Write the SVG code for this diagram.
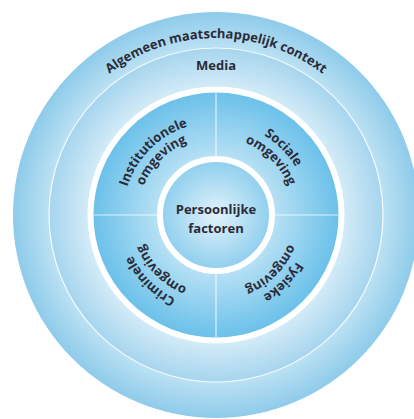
<svg xmlns="http://www.w3.org/2000/svg" xmlns:xlink="http://www.w3.org/1999/xlink" width="414" height="419" viewBox="0 0 414 419">
<defs>
<style>
.lbl{font-family:"Open Sans","Noto Sans","Liberation Sans",sans-serif;font-weight:700;font-size:13px;fill:#2b2b38;}
.div{stroke:#ffffff;stroke-opacity:0.75;stroke-width:1.2;fill:none;}
.ring{fill:none;stroke:#ffffff;stroke-width:6;}
</style>
<radialGradient id="gOuter" gradientUnits="userSpaceOnUse" cx="216" cy="215" r="203">
<stop offset="0.82" stop-color="#bce1f3"/>
<stop offset="1" stop-color="#8ecbea"/>
</radialGradient>
<radialGradient id="gMedia" gradientUnits="userSpaceOnUse" cx="216" cy="215" r="203">
<stop offset="0.63" stop-color="#d3ebf7"/>
<stop offset="0.823" stop-color="#a6d5ee"/>
</radialGradient>
<radialGradient id="gSector" gradientUnits="userSpaceOnUse" cx="216" cy="215" r="203">
<stop offset="0.29" stop-color="#b6e0f4"/>
<stop offset="0.6" stop-color="#6cc1ea"/>
</radialGradient>
<radialGradient id="gInner" gradientUnits="userSpaceOnUse" cx="216" cy="215" r="203">
<stop offset="0" stop-color="#e3f3fb"/>
<stop offset="0.27" stop-color="#8fcfee"/>
</radialGradient>
<path id="arcCtx" d="M41.69,184.26 A177,177 0 0 1 390.31,184.26"/>
<path id="arcOut" d="M124.41,198.85 A93,93 0 0 1 307.59,198.85"/>
<path id="arcIn" d="M139.18,201.46 A78,78 0 0 1 292.82,201.46"/>
</defs>
<rect width="414" height="419" fill="#ffffff"/>

<g id="context">
<circle cx="216" cy="215" r="203" fill="url(#gOuter)"/>
<text class="lbl"><textPath xlink:href="#arcCtx" href="#arcCtx" startOffset="50%" text-anchor="middle">Algemeen maatschappelijk context</textPath></text>
</g>

<g id="media">
<circle cx="216" cy="215" r="167" fill="url(#gMedia)" stroke="#ffffff" stroke-opacity="0.85" stroke-width="1.2"/>
<text class="lbl" x="216" y="70" text-anchor="middle">Media</text>
</g>

<g id="omgevingen">
<circle cx="216" cy="215" r="125.5" fill="url(#gSector)"/>
<circle class="ring" cx="216" cy="215" r="125.5"/>
</g>

<g id="connectors">
<line class="div" x1="216" y1="93" x2="216" y2="156"/>
<line class="div" x1="216" y1="274" x2="216" y2="337"/>
<line class="div" x1="94" y1="215" x2="157" y2="215"/>
<line class="div" x1="275" y1="215" x2="338" y2="215"/>
</g>

<g id="institutionele" transform="rotate(-45 216 215)">
<text class="lbl"><textPath xlink:href="#arcOut" href="#arcOut" startOffset="50%" text-anchor="middle">Institutionele</textPath></text>
<text class="lbl"><textPath xlink:href="#arcIn" href="#arcIn" startOffset="50%" text-anchor="middle">omgeving</textPath></text>
</g>
<g id="sociale" transform="rotate(45 216 215)">
<text class="lbl"><textPath xlink:href="#arcOut" href="#arcOut" startOffset="50%" text-anchor="middle">Sociale</textPath></text>
<text class="lbl"><textPath xlink:href="#arcIn" href="#arcIn" startOffset="50%" text-anchor="middle">omgeving</textPath></text>
</g>
<g id="fysieke" transform="rotate(135 216 215)">
<text class="lbl"><textPath xlink:href="#arcOut" href="#arcOut" startOffset="50%" text-anchor="middle">Fysieke</textPath></text>
<text class="lbl"><textPath xlink:href="#arcIn" href="#arcIn" startOffset="50%" text-anchor="middle">omgeving</textPath></text>
</g>
<g id="criminele" transform="rotate(-135 216 215)">
<text class="lbl"><textPath xlink:href="#arcOut" href="#arcOut" startOffset="50%" text-anchor="middle">Criminele</textPath></text>
<text class="lbl"><textPath xlink:href="#arcIn" href="#arcIn" startOffset="50%" text-anchor="middle">omgeving</textPath></text>
</g>

<g id="persoonlijk">
<circle cx="216" cy="215" r="56" fill="url(#gInner)"/>
<circle class="ring" cx="216" cy="215" r="56"/>
<text class="lbl" x="216" y="214" text-anchor="middle">Persoonlijke</text>
<text class="lbl" x="216" y="233" text-anchor="middle">factoren</text>
</g>
</svg>
